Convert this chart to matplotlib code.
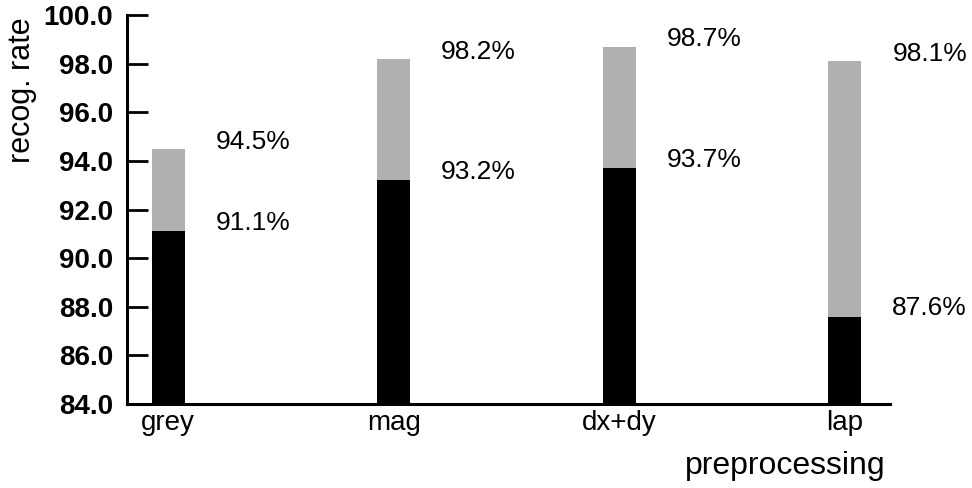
import matplotlib.pyplot as plt
import numpy as np

methods = ["grey", "mag", "dx+dy", "lap"]
rate_top = [94.5, 98.2, 98.7, 98.1]     # grey stippled bars
rate_first = [91.1, 93.2, 93.7, 87.6]   # black bars

plt.rcParams["font.family"] = ["Liberation Sans", "DejaVu Sans"]

fig = plt.figure(figsize=(9.72, 4.88), dpi=100)
ax = fig.add_axes([0.1307, 0.172, 0.785, 0.797])

x = np.arange(len(methods))
w = 0.146
ax.bar(x, np.array(rate_top) - 84.0, bottom=84.0, width=w, color="#b0b0b0", zorder=2)
ax.bar(x, np.array(rate_first) - 84.0, bottom=84.0, width=w, color="black", zorder=3)

for xi, top, first in zip(x, rate_top, rate_first):
    ax.text(xi + 0.21, top + 0.3, f"{top:.1f}%", fontsize=19, ha="left", va="center")
    ax.text(xi + 0.21, first + 0.35, f"{first:.1f}%", fontsize=19, ha="left", va="center")

ax.set_xlim(-0.182, 3.2)
ax.set_ylim(84.0, 100.0)
yt = np.arange(84, 100.1, 2)
ax.set_yticks(yt)
ax.set_yticklabels([f"{v:.1f}" for v in yt], fontsize=20, fontweight="bold")
ax.set_xticks(x)
ax.set_xticklabels(methods, fontsize=20)
ax.tick_params(axis="y", direction="in", length=15, width=2, pad=10)
ax.tick_params(axis="x", length=0, pad=4)

for s in ("top", "right"):
    ax.spines[s].set_visible(False)
for s in ("left", "bottom"):
    ax.spines[s].set_linewidth(2.2)

fig.text(0.023, 0.815, "recog. rate", fontsize=22, rotation=90, ha="center", va="center")
fig.text(0.911, 0.045, "preprocessing", fontsize=23, ha="right", va="center")

fig.savefig("out.png", dpi=100)
